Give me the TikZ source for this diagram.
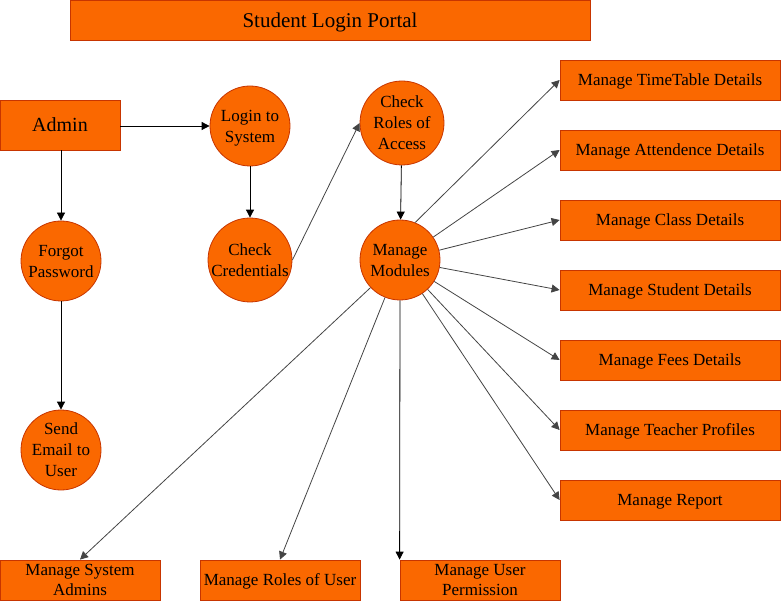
\documentclass[tikz,border=0pt]{standalone}
\usepackage{fontspec}
\setmainfont{Liberation Serif}
\usetikzlibrary{arrows.meta}
\definecolor{orfill}{HTML}{FA6800}
\definecolor{orline}{HTML}{C73500}
\definecolor{lgray}{HTML}{444444}
\tikzset{
  box/.style={draw=orline, fill=orfill, line width=0.8pt, inner sep=0pt, align=center, text depth=-2pt, font=\fontsize{17}{20}\selectfont},
  proc/.style={draw=orline, fill=orfill, line width=0.8pt, circle, minimum size=80pt, inner sep=0pt, align=center, text depth=-2pt, font=\fontsize{17}{21}\selectfont},
  arr/.style={-{Triangle[length=8pt,width=8pt]}, line width=0.8pt, black},
  garr/.style={-{Triangle[length=8pt,width=8pt]}, line width=0.8pt, lgray},
}
\begin{document}
\begin{tikzpicture}[x=1pt,y=-1pt]
\useasboundingbox (0,0) rectangle (781,601);
% title
\node[box, minimum width=520pt, minimum height=40pt, font=\fontsize{21}{24}\selectfont] (title) at (330,20) {Student Login Portal};
% admin
\node[box, minimum width=120pt, minimum height=50pt, font=\fontsize{20}{22}\selectfont] (admin) at (60,125) {Admin};
% circles
\node[proc] (login) at (250,126) {Login to\\System};
\node[proc] (cred) at (250,260) {Check\\Credentials};
\node[proc] (forgot) at (61,261) {Forgot\\Password};
\node[proc] (send) at (61,450) {Send\\Email to\\User};
\node[proc, minimum size=84pt] (roles) at (402,123) {Check\\Roles of\\Access};
\node[proc] (mm) at (400,260) {Manage\\Modules};
% right boxes
\foreach \n/\y/\t in {r1/80/Manage TimeTable Details, r2/150/Manage Attendence Details, r3/220/Manage Class Details, r4/290/Manage Student Details, r5/360/Manage Fees Details, r6/430/Manage Teacher Profiles, r7/500/Manage Report}
  \node[box, minimum width=220pt, minimum height=40pt] (\n) at (670,\y) {\t};
% bottom boxes
\node[box, minimum width=160pt, minimum height=40pt] (b1) at (80,580) {Manage System\\Admins};
\node[box, minimum width=160pt, minimum height=40pt] (b2) at (280,580) {Manage Roles of User};
\node[box, minimum width=160pt, minimum height=40pt] (b3) at (480,580) {Manage User\\Permission};
% connectors
\draw[arr] (admin.east |- login) -- (login.west);
\draw[arr] (admin.south -| forgot) -- (forgot.north);
\draw[arr] (login) -- (cred);
\draw[arr] (forgot) -- (send);
\draw[garr] (cred.east) -- (roles.west);
\draw[arr] (roles) -- (mm);
\draw[garr] (mm.68) -- (r1.west);
\foreach \n in {r2,r3,r4,r5,r6,r7}
  \draw[garr] (mm) -- (\n.west);
\draw[garr] (mm) -- (b1.north);
\draw[garr] (mm) -- (b2.north);
\draw[arr] (mm.south) -- (b3.north west);
\end{tikzpicture}
\end{document}
